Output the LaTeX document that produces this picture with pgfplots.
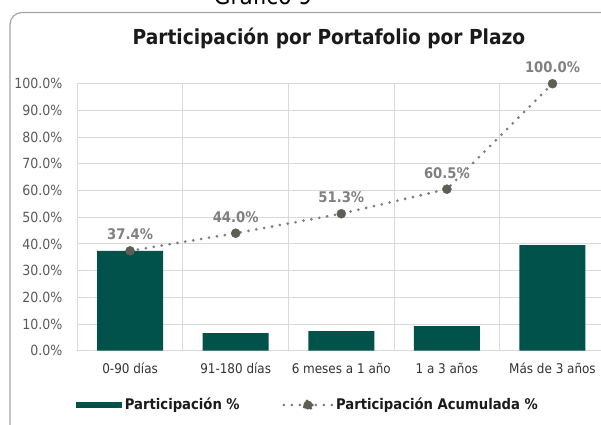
\documentclass[border=0pt]{standalone}
\usepackage{pgfplots}
\pgfplotsset{compat=1.18}
\usepackage{fontspec}
\setmainfont{DejaVu Sans Condensed}[BoldFont={DejaVu Sans Condensed Bold}]
\definecolor{barteal}{HTML}{00524A}
\definecolor{linegray}{HTML}{808080}
\definecolor{markgray}{HTML}{5E5E55}
\definecolor{gridgray}{HTML}{D9D9D9}
\definecolor{framegray}{HTML}{A6A6A6}
\definecolor{ticktext}{HTML}{595959}
\definecolor{cattext}{HTML}{333333}
\definecolor{labgray}{HTML}{808080}
\definecolor{titleblack}{HTML}{1A1A1A}
\begin{document}
\begin{tikzpicture}
\begin{scope}[x=0.75pt,y=-0.75pt]
\draw[framegray, line width=0.9pt, rounded corners=9pt] (10,12.5) rectangle (660,520);
\node[anchor=base, inner sep=0pt, font=\fontsize{18}{21}\selectfont, text=black] at (263,4) {Gráfico 9};
\node[anchor=base, inner sep=0pt, font=\bfseries\fontsize{15.5}{18}\selectfont, text=titleblack] at (329,44) {Participación por Portafolio por Plazo};
\end{scope}
\begin{axis}[
  at={(57.975pt,-263.025pt)}, anchor=south west,
  scale only axis, width=396pt, height=200.25pt,
  xmin=-0.5, xmax=4.5, ymin=0, ymax=100,
  clip=false,
  axis line style={draw=gridgray, line width=0.75pt},
  major tick length=0pt,
  xtick={0,1,2,3,4},
  xticklabels={0-90 días, 91-180 días, 6 meses a 1 año, 1 a 3 años, Más de 3 años},
  extra x ticks={0.5,1.5,2.5,3.5},
  extra x tick labels={},
  extra x tick style={grid=major},
  ytick={0,10,20,30,40,50,60,70,80,90,100},
  yticklabels={0.0\%,10.0\%,20.0\%,30.0\%,40.0\%,50.0\%,60.0\%,70.0\%,80.0\%,90.0\%,100.0\%},
  ymajorgrids,
  grid style={draw=gridgray, line width=0.75pt},
  xticklabel style={font=\fontsize{10}{12}\selectfont, text=cattext, anchor=north, inner sep=0pt, yshift=-9pt},
  yticklabel style={font=\fontsize{10.5}{12}\selectfont, text=ticktext, anchor=east, inner sep=0pt, xshift=-11pt},
  legend columns=2,
  legend cell align=left,
  legend style={draw=none, fill=none, inner sep=0pt, at={(-0.0025,-0.2034)}, anchor=west,
    font=\bfseries\fontsize{11}{13}\selectfont, text=titleblack,
    /tikz/every even column/.append style={column sep=30pt}},
]
\addplot[ybar, bar width=49.5pt, fill=barteal, draw=none,
  legend image code/.code={\fill[barteal] (0pt,-2.6pt) rectangle (34.5pt,2.6pt);}]
  coordinates {(0,37.4) (1,6.6) (2,7.3) (3,9.2) (4,39.5)};
\addlegendentry{Participación \%}
\addplot[linegray, line width=2.3pt, line cap=round, dash pattern=on 0pt off 6pt,
  mark=*, mark size=3.4pt, mark options={solid, draw=markgray, fill=markgray, line width=0.3pt},
  point meta=explicit symbolic, nodes near coords,
  every node near coord/.append style={font=\bfseries\fontsize{11}{13}\selectfont, text=labgray, anchor=south, inner sep=0pt, yshift=8pt},
  legend image code/.code={\draw[linegray, line width=2.3pt, line cap=round, dash pattern=on 0pt off 6pt] (0pt,0pt) -- (36pt,0pt); \fill[markgray] (18pt,0pt) circle (3.4pt);}]
  coordinates {(0,37.4) [37.4\%] (1,44.0) [44.0\%] (2,51.3) [51.3\%] (3,60.5) [60.5\%] (4,100.0) [100.0\%]};
\addlegendentry{Participación Acumulada \%}
\end{axis}
\pgfresetboundingbox
\path[use as bounding box] (0pt,0pt) rectangle (450.75pt,-318.75pt);
\end{tikzpicture}
\end{document}
